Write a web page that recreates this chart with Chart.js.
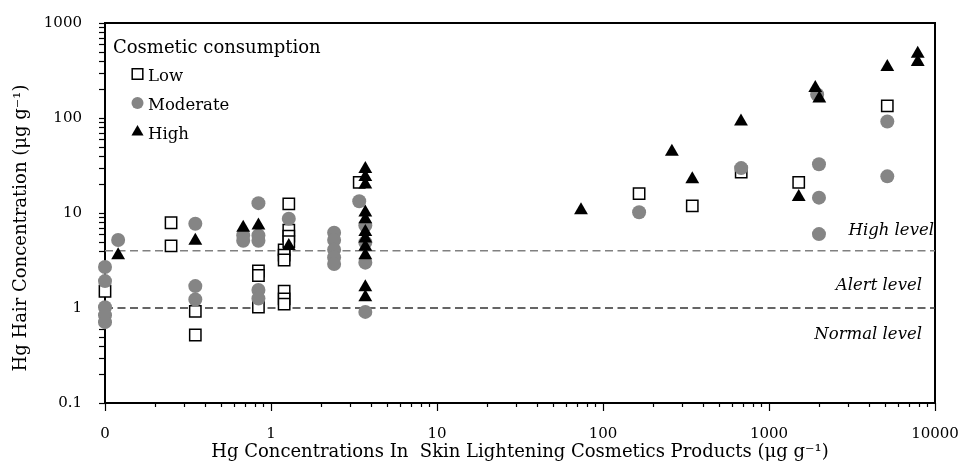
<!DOCTYPE html>
<html>
<head>
<meta charset="utf-8">
<script src="https://cdn.jsdelivr.net/npm/chart.js@4.4.0/dist/chart.umd.min.js"></script>
<style>
body { margin: 0; background: #fff; }
</style>
</head>
<body>
<canvas id="chart" width="961" height="463"></canvas>
<script>
// Hg in hair vs Hg in skin lightening products, by consumption level
var lowX = [0.1, 0.25, 0.25, 0.35, 0.35, 0.84, 0.84, 0.84, 1.2, 1.2, 1.2, 1.2, 1.2, 1.2, 1.28, 1.28, 1.28, 1.28, 3.4, 165, 345, 680, 1510, 5160];
var lowY = [1.5, 7.9, 4.5, 0.92, 0.52, 2.45, 2.2, 1.02, 4.1, 3.6, 3.2, 1.5, 1.25, 1.1, 12.5, 6.6, 5.7, 5.0, 21, 16, 11.9, 27, 21, 134];

var modX = [0.1, 0.1, 0.1, 0.1, 0.1, 0.12, 0.35, 0.35, 0.35, 0.68, 0.68, 0.84, 0.84, 0.84, 0.84, 0.84, 1.28, 2.4, 2.4, 2.4, 2.4, 2.4, 3.4, 3.7, 3.7, 3.7, 3.7, 165, 680, 1950, 2000, 2000, 2000, 5160, 5160];
var modY = [2.7, 1.92, 1.02, 0.84, 0.71, 5.2, 7.7, 1.7, 1.23, 5.8, 5.1, 12.7, 5.8, 5.1, 1.55, 1.26, 8.7, 6.2, 5.2, 4.1, 3.4, 2.9, 13.3, 7.4, 4.9, 3.0, 0.91, 10.2, 29.7, 177, 32.6, 14.5, 6.0, 92, 24.3];

var highX = [0.12, 0.35, 0.68, 0.84, 1.28, 3.7, 3.7, 3.7, 3.7, 3.7, 3.7, 3.7, 3.7, 3.7, 3.7, 3.7, 73.7, 260, 345, 678, 1510, 1900, 2010, 5160, 7870, 7870];
var highY = [3.6, 5.1, 7.0, 7.4, 4.5, 29, 24, 20, 10.1, 8.6, 6.3, 5.4, 4.4, 3.6, 1.65, 1.3, 10.7, 44, 22.6, 92, 14.7, 207, 160, 344, 476, 388];

var xTickValues = [0.1, 1, 10, 100, 1000, 10000];
var xTickLabels = ['0', '1', '10', '100', '1000', '10000'];
var yTickValues = [0.1, 1, 10, 100, 1000];
var yTickLabels = ['0.1', '1', '10', '100', '1000'];

var levelValues = [4, 1];
var levelNames = ['High level', 'Alert level', 'Normal level'];
var levelTextY = [5.8, 1.55, 0.47];

var legendTitle = 'Cosmetic consumption';
var xTitle = 'Hg Concentrations In  Skin Lightening Cosmetics Products (\u03bcg g\u207b\u00b9)';
var yTitle = 'Hg Hair Concentration (\u03bcg g\u207b\u00b9)';

var serif = "'DejaVu Serif', serif";

function toPoints(xs, ys) {
    return xs.map(function(x, i) { return {x: x, y: ys[i]}; });
}

function isDecade(v) {
    var l = Math.log10(v);
    return Math.abs(l - Math.round(l)) < 1e-6;
}

function logTicks(min, max) {
    var ticks = [];
    for (var e = Math.round(Math.log10(min)); e < Math.round(Math.log10(max)); e++) {
        for (var k = 1; k < 10; k++) {
            ticks.push({value: +(k * Math.pow(10, e)).toPrecision(6)});
        }
    }
    ticks.push({value: max});
    return ticks;
}

function labelFor(values, labels) {
    return function(v) {
        for (var i = 0; i < values.length; i++) {
            if (Math.abs(v - values[i]) / values[i] < 1e-6) return labels[i];
        }
        return '';
    };
}

function levelLine(y, color) {
    return {
        type: 'line',
        data: [{x: 0.1, y: y}, {x: 10000, y: y}],
        borderColor: color,
        borderWidth: 1.5,
        borderDash: [8, 4.5],
        pointRadius: 0,
        order: 5,
        clip: false
    };
}

var framePlugin = {
    id: 'frame',
    beforeDatasetsDraw: function(chart) {
        var ctx = chart.ctx, a = chart.chartArea;
        var xs = chart.scales.x, ys = chart.scales.y;
        ctx.save();
        ctx.strokeStyle = '#000';
        ctx.lineWidth = 1.2;
        xs.ticks.forEach(function(t) {
            var p = Math.round(xs.getPixelForValue(t.value)) + 0.5;
            var len = isDecade(t.value) ? 8 : 4;
            ctx.beginPath();
            ctx.moveTo(p, a.bottom);
            ctx.lineTo(p, a.bottom + len);
            ctx.stroke();
        });
        ys.ticks.forEach(function(t) {
            var p = Math.round(ys.getPixelForValue(t.value)) + 0.5;
            ctx.beginPath();
            ctx.moveTo(a.left, p);
            ctx.lineTo(a.left - 6, p);
            ctx.stroke();
        });
        ctx.lineWidth = 2;
        ctx.strokeRect(a.left, a.top, a.right - a.left, a.bottom - a.top);
        ctx.restore();
    },
    afterDraw: function(chart) {
        var ctx = chart.ctx, a = chart.chartArea;
        var ys = chart.scales.y;
        ctx.save();
        ctx.fillStyle = '#000';

        // y axis title
        ctx.save();
        ctx.translate(21, (a.top + a.bottom) / 2 + 15);
        ctx.rotate(-Math.PI / 2);
        ctx.font = '18px ' + serif;
        ctx.textAlign = 'center';
        ctx.textBaseline = 'middle';
        ctx.fillText(yTitle, 0, 0);
        ctx.restore();

        // level labels
        ctx.font = 'italic 16.5px ' + serif;
        ctx.textAlign = 'right';
        ctx.textBaseline = 'alphabetic';
        var insets = [1, 13, 13];
        levelNames.forEach(function(name, i) {
            ctx.fillText(name, a.right - insets[i], ys.getPixelForValue(levelTextY[i]));
        });

        // legend
        ctx.textAlign = 'left';
        ctx.font = '18px ' + serif;
        ctx.fillText(legendTitle, a.left + 8, a.top + 30);
        ctx.font = '16.5px ' + serif;
        var legendSets = chart.data.datasets.filter(function(d) { return d.type !== 'line'; });
        legendSets.forEach(function(d, i) {
            var cy = a.top + 51 + i * 29;
            ctx.fillStyle = d.backgroundColor;
            ctx.strokeStyle = d.borderColor;
            ctx.lineWidth = d.borderWidth;
            Chart.helpers.drawPoint(ctx, {
                pointStyle: d.pointStyle,
                radius: d.legendRadius,
                borderWidth: d.borderWidth,
                rotation: 0
            }, a.left + 32.5, cy);
            ctx.fillStyle = '#000';
            ctx.fillText(d.label, a.left + 43, cy + 6.5);
        });
        ctx.restore();
    }
};

function noHorizontalPad(s) {
    s.paddingLeft = 0;
    s.paddingRight = 0;
}

function noVerticalPad(s) {
    s.paddingTop = 0;
    s.paddingBottom = 0;
}

var chart = new Chart(document.getElementById('chart'), {
    type: 'scatter',
    data: {
        datasets: [{
            label: 'Low',
            data: toPoints(lowX, lowY),
            pointStyle: 'rect',
            pointRadius: 8,
            legendRadius: 7.5,
            backgroundColor: '#ffffff',
            borderColor: '#000000',
            borderWidth: 1.5,
            order: 3,
            clip: false
        }, {
            label: 'Moderate',
            data: toPoints(modX, modY),
            pointStyle: 'circle',
            pointRadius: 7,
            legendRadius: 6,
            backgroundColor: '#858585',
            borderColor: '#858585',
            borderWidth: 0,
            order: 2,
            clip: false
        }, {
            label: 'High',
            data: toPoints(highX, highY),
            pointStyle: 'triangle',
            pointRadius: 8,
            legendRadius: 7,
            backgroundColor: '#000000',
            borderColor: '#000000',
            borderWidth: 0,
            order: 1,
            clip: false
        },
        levelLine(levelValues[0], '#808080'),
        levelLine(levelValues[1], '#333333')]
    },
    options: {
        responsive: false,
        animation: false,
        events: [],
        layout: {padding: {top: 23, right: 26, left: 0, bottom: 0}},
        font: {family: serif},
        plugins: {
            legend: {display: false},
            tooltip: {enabled: false}
        },
        scales: {
            x: {
                type: 'logarithmic',
                min: 0.1,
                max: 10000,
                grid: {display: false},
                border: {display: false},
                afterBuildTicks: function(s) { s.ticks = logTicks(s.min, s.max); },
                afterFit: function(s) { s.height = 60; noHorizontalPad(s); },
                ticks: {
                    autoSkip: false,
                    maxRotation: 0,
                    padding: 14,
                    color: '#000',
                    font: {family: serif, size: 15},
                    callback: labelFor(xTickValues, xTickLabels)
                },
                title: {
                    display: true,
                    text: xTitle,
                    color: '#000',
                    font: {family: serif, size: 18},
                    padding: {top: 0, bottom: 0}
                }
            },
            y: {
                type: 'logarithmic',
                min: 0.1,
                max: 1000,
                grid: {display: false},
                border: {display: false},
                afterBuildTicks: function(s) { s.ticks = logTicks(s.min, s.max); },
                afterFit: function(s) { s.width = 105; noVerticalPad(s); },
                ticks: {
                    autoSkip: false,
                    padding: 15,
                    color: '#000',
                    font: {family: serif, size: 15},
                    callback: labelFor(yTickValues, yTickLabels)
                }
            }
        }
    },
    plugins: [framePlugin]
});
</script>
</body>
</html>
